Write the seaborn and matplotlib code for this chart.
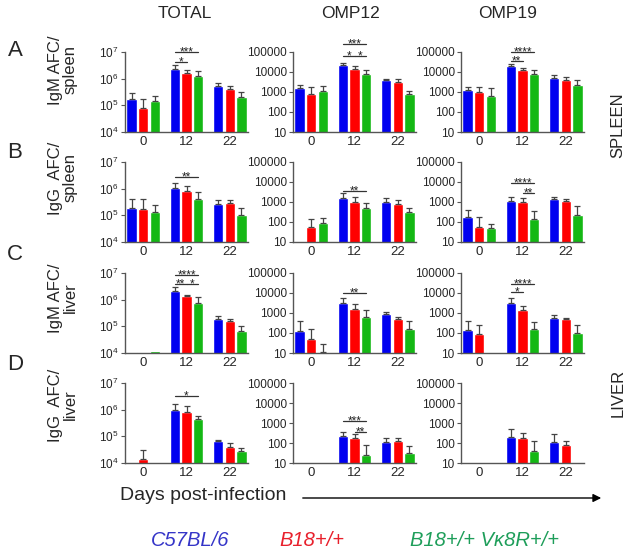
import numpy as np
import pandas as pd
import matplotlib
matplotlib.use('Agg')
import matplotlib.pyplot as plt
import matplotlib.ticker as mticker
import seaborn as sns

nan = np.nan

# groups and strains
days = ['0', '12', '22']
strains = ['C57BL/6', 'B18+/+', 'B18+/+ Vκ8R+/+']
bar_colors = ['#0000f0', '#ff0000', '#14b814']
text_colors = ['#3535c8', '#e8202c', '#1e9e5a']

# values: rows = strains, columns = days
# *_top = top of the error bar
A_total = [[1.7e5, 2.4e6, 5.4e5], [7.8e4, 1.66e6, 4.0e5], [1.4e5, 1.24e6, 2.1e5]]
A_total_top = [[2.8e5, 3.2e6, 7.0e5], [1.8e5, 2.2e6, 5.3e5], [2.2e5, 1.9e6, 3.2e5]]
A_omp12 = [[1600, 21500, 3800], [800, 14700, 3200], [1120, 8300, 830]]
A_omp12_top = [[2150, 28000, 4600], [1800, 20000, 4600], [2100, 12000, 1100]]
A_omp19 = [[1300, 20000, 5200], [1000, 12000, 4100], [600, 8300, 2150]]
A_omp19_top = [[1800, 24000, 6800], [1700, 15800, 5600], [1500, 13000, 3800]]

B_total = [[1.9e5, 1.07e6, 2.7e5], [1.7e5, 8.2e5, 3.0e5], [1.3e5, 4.0e5, 1.07e5]]
B_total_top = [[4.2e5, 1.6e6, 3.7e5], [4.2e5, 1.3e6, 3.9e5], [2.5e5, 7.5e5, 1.9e5]]
B_omp12 = [[0, 1500, 1000], [59, 1040, 790], [94, 480, 300]]
B_omp12_top = [[nan, 2700, 1500], [140, 1700, 1260], [150, 890, 500]]
B_omp19 = [[170, 1170, 1400], [59, 960, 1170], [53, 140, 220]]
B_omp19_top = [[400, 1730, 1700], [170, 1600, 1400], [83, 360, 660]]

C_total = [[1.12e4, 2.2e6, 1.9e5], [0, 1.34e6, 1.55e5], [1.15e4, 7.5e5, 6.9e4]]
C_total_top = [[nan, 3.0e6, 2.4e5], [nan, 1.5e6, 1.95e5], [nan, 1.26e6, 1.0e5]]
C_omp12 = [[130, 3100, 870], [52, 1500, 480], [11, 630, 160]]
C_omp12_top = [[400, 5600, 1150], [160, 2750, 630], [27, 1400, 380]]
C_omp19 = [[140, 3100, 590], [88, 1400, 480], [0, 150, 100]]
C_omp19_top = [[380, 5600, 840], [240, 2250, 560], [nan, 350, 240]]

D_total = [[1.1e4, 9.8e5, 6.6e4], [1.45e4, 8.5e5, 4.0e4], [0, 4.4e5, 2.8e4]]
D_total_top = [[nan, 1.66e6, 7.2e4], [3.0e4, 1.4e6, 5.4e4], [nan, 5.8e5, 3.5e4]]
D_omp12 = [[0, 220, 107], [0, 170, 124], [0, 24.5, 32]]
D_omp12_top = [[nan, 365, 170], [nan, 270, 180], [nan, 78, 69]]
D_omp19 = [[0, 200, 115], [0, 180, 84], [0, 40, 0]]
D_omp19_top = [[nan, 480, 270], [nan, 300, 124], [nan, 124, nan]]

# significance brackets: (day index, strain a, strain b, height, stars)
A_total_sig = [(1, 0, 2, 1.0e7, '***'), (1, 0, 1, 4.2e6, '*')]
A_omp12_sig = [(1, 0, 2, 2.6e5, '***'), (1, 0, 1, 6.0e4, '*'), (1, 1, 2, 6.0e4, '*')]
A_omp19_sig = [(1, 0, 2, 1.0e5, '****'), (1, 0, 1, 3.4e4, '**')]
B_total_sig = [(1, 0, 2, 2.75e6, '**')]
B_omp12_sig = [(1, 0, 2, 3700, '**')]
B_omp19_sig = [(1, 0, 2, 8700, '****'), (1, 1, 2, 2800, '**')]
C_total_sig = [(1, 0, 2, 8.2e6, '****'), (1, 0, 1, 4.0e6, '**'), (1, 1, 2, 4.0e6, '*')]
C_omp12_sig = [(1, 0, 2, 1.0e4, '**')]
C_omp19_sig = [(1, 0, 2, 2.95e4, '****'), (1, 0, 1, 1.14e4, '*')]
D_total_sig = [(1, 0, 2, 3.2e6, '*')]
D_omp12_sig = [(1, 0, 2, 1260, '***'), (1, 1, 2, 365, '**')]
D_omp19_sig = []

panels = [
    [(A_total, A_total_top, A_total_sig), (A_omp12, A_omp12_top, A_omp12_sig), (A_omp19, A_omp19_top, A_omp19_sig)],
    [(B_total, B_total_top, B_total_sig), (B_omp12, B_omp12_top, B_omp12_sig), (B_omp19, B_omp19_top, B_omp19_sig)],
    [(C_total, C_total_top, C_total_sig), (C_omp12, C_omp12_top, C_omp12_sig), (C_omp19, C_omp19_top, C_omp19_sig)],
    [(D_total, D_total_top, D_total_sig), (D_omp12, D_omp12_top, D_omp12_sig), (D_omp19, D_omp19_top, D_omp19_sig)],
]

col_titles = ['TOTAL', 'OMP12', 'OMP19']
row_letters = ['A', 'B', 'C', 'D']
row_labels = ['IgM AFC/\nspleen', 'IgG  AFC/\nspleen', 'IgM AFC/\nliver', 'IgG  AFC/\nliver']

sns.set_style('ticks')
plt.rcParams['font.family'] = ['Liberation Sans', 'DejaVu Sans']

W, H = 635, 554
fig = plt.figure(figsize=(W / 100, H / 100), dpi=100)

# layout in pixels
col_left = [125, 293, 461]
row_top = [52, 162, 273, 383]
ax_w, ax_h = 123, 80

for r in range(4):
    for c in range(3):
        vals, tops, sigs = panels[r][c]
        ax = fig.add_axes([col_left[c] / W, 1 - (row_top[r] + ax_h) / H, ax_w / W, ax_h / H])
        df = pd.DataFrame({
            'day': [d for s in strains for d in days],
            'strain': [s for s in strains for d in days],
            'afc': np.array(vals, dtype=float).ravel(),
        })
        sns.barplot(data=df, x='day', y='afc', hue='strain', order=days, hue_order=strains,
                    palette=bar_colors, saturation=1, errorbar=None, gap=0.1,
                    legend=False, ax=ax)
        ax.set_yscale('log')
        if c == 0:
            ax.set_ylim(1e4, 1e7)
            ax.set_yticks([1e4, 1e5, 1e6, 1e7])
            ax.yaxis.set_minor_locator(mticker.LogLocator(base=10, subs=np.arange(2, 10)))
            ax.yaxis.set_minor_formatter(mticker.NullFormatter())
        else:
            ax.set_ylim(10, 1e5)
            ax.set_yticks([10, 100, 1000, 10000, 100000])
            ax.set_yticklabels(['10', '100', '1000', '10000', '100000'])
            ax.yaxis.set_minor_locator(mticker.NullLocator())
        ax.set_xlim(-0.42, 2.42)

        # one-sided error bars on top of the seaborn bars
        for i in range(3):
            bars = ax.containers[i]
            for j, bar in enumerate(bars):
                top = tops[i][j]
                if np.isnan(top):
                    continue
                x = bar.get_x() + bar.get_width() / 2
                ax.errorbar(x, vals[i][j], yerr=[[0], [top - vals[i][j]]], fmt='none',
                            ecolor='#444444', elinewidth=0.9, capsize=2, capthick=0.9)

        # significance brackets
        for g, a, b, y, stars in sigs:
            ba = ax.containers[a][g]
            bb = ax.containers[b][g]
            x1 = ba.get_x() + ba.get_width() / 2
            x2 = bb.get_x() + bb.get_width() / 2
            ax.plot([x1, x2], [y, y], color='#333333', lw=0.9, clip_on=False)
            ax.annotate(stars, xy=((x1 + x2) / 2, y), xytext=(0, -2.5), textcoords='offset points',
                        ha='center', va='baseline', fontsize=8.5,
                        color='#222222', annotation_clip=False)

        sns.despine(ax=ax)
        for sp in ['left', 'bottom']:
            ax.spines[sp].set_color('#555555')
            ax.spines[sp].set_linewidth(1.0)
        ax.tick_params(axis='y', which='major', length=3, width=0.8, color='#555555',
                       labelsize=8.5, pad=1.5)
        ax.tick_params(axis='y', which='minor', length=1.5, width=0.5, color='#777777')
        ax.tick_params(axis='x', length=0, labelsize=9.5, pad=3)
        ax.set_xlabel('')
        ax.set_ylabel('')

# column titles
for c, (t, xc) in enumerate(zip(col_titles, [185, 350, 508])):
    fig.text(xc / W, 1 - 13 / H, t, ha='center', va='center', fontsize=12.5)

# row letters and y labels
for r, (letter, ly, lab, lab_y) in enumerate(zip(row_letters, [51, 153, 255, 365], row_labels, [70, 178, 298, 405])):
    fig.text(15 / W, 1 - ly / H, letter, ha='center', va='center', fontsize=16)
    fig.text(63 / W, 1 - lab_y / H, lab, ha='center', va='center', rotation=90,
             multialignment='center', fontsize=12, linespacing=1.0)

fig.text(618 / W, 1 - 125 / H, 'SPLEEN', ha='center', va='center', rotation=90, fontsize=12)
fig.text(618 / W, 1 - 393 / H, 'LIVER', ha='center', va='center', rotation=90, fontsize=12)

# x caption with arrow
fig.text(203 / W, 1 - 496 / H, 'Days post-infection', ha='center', va='center', fontsize=14)
fig.add_artist(matplotlib.patches.FancyArrowPatch((300 / W, 1 - 498 / H), (604 / W, 1 - 498 / H),
                                                  transform=fig.transFigure, arrowstyle='-|>',
                                                  mutation_scale=12, lw=1, color='black'))

# strain legend as coloured text
for s, col, xc in zip(strains, text_colors, [190, 312, 485]):
    fig.text(xc / W, 1 - 540 / H, s, ha='center', va='center', fontsize=14.5,
             style='italic', color=col)

fig.savefig('out.png', dpi=100)
